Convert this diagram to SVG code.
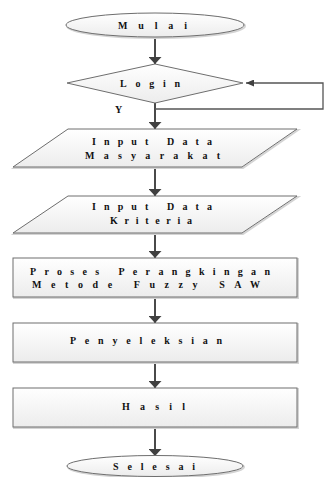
<svg xmlns="http://www.w3.org/2000/svg" width="335" height="477" viewBox="0 0 335 477">
<defs>
<linearGradient id="fillg" x1="0" y1="0" x2="0" y2="1">
<stop offset="0" stop-color="#ffffff"/>
<stop offset="1" stop-color="#ececec"/>
</linearGradient>
<marker id="ah" viewBox="0 0 7 13" refX="7" refY="6.5" markerWidth="7" markerHeight="13" markerUnits="userSpaceOnUse" orient="auto">
<path d="M0,0 L7,6.5 L0,13 z" fill="#404040"/>
</marker>
<marker id="ahs" viewBox="0 0 8 7" refX="8" refY="3.5" markerWidth="8" markerHeight="7" markerUnits="userSpaceOnUse" orient="auto">
<path d="M0,0 L8,3.5 L0,7 z" fill="#404040"/>
</marker>
</defs>
<style>
.shape{fill:url(#fillg);stroke:#6e6e6e;stroke-width:1}
.shadow{fill:none;stroke:#d4d4d4;stroke-width:2}
.t{font-family:"Liberation Serif","Times New Roman",serif;font-size:10px;font-weight:bold;fill:#111}
.c{fill:none;stroke:#4a4a4a;stroke-width:2}
.loop{fill:none;stroke:#555;stroke-width:1.3}
</style>
<rect width="335" height="477" fill="#ffffff"/>
<g id="connectors">
<line class="c" x1="155" y1="37" x2="155" y2="64" marker-end="url(#ah)"/>
<line class="c" x1="155" y1="103" x2="155" y2="129" marker-end="url(#ah)"/>
<line class="c" x1="155" y1="167" x2="155" y2="196" marker-end="url(#ah)"/>
<line class="c" x1="155" y1="233" x2="155" y2="258" marker-end="url(#ah)"/>
<line class="c" x1="155" y1="297" x2="155" y2="323" marker-end="url(#ah)"/>
<line class="c" x1="155" y1="362" x2="155" y2="388" marker-end="url(#ah)"/>
<line class="c" x1="155" y1="427" x2="155" y2="456" marker-end="url(#ah)"/>
<polyline class="loop" points="155,109 323,109 323,83 246,83" marker-end="url(#ahs)"/>
<text class="t" x="115" y="113">Y</text>
</g>
<g id="mulai">
<ellipse class="shadow" cx="156" cy="26" rx="89" ry="12"/>
<ellipse class="shape" cx="155" cy="25" rx="89" ry="12"/>
<text class="t" x="118" y="28.5" textLength="69" lengthAdjust="spacing">Mulai</text>
</g>
<g id="login">
<polygon class="shape" points="155,64 243,83 155,103 67,83"/>
<text class="t" x="120" y="87" textLength="60" lengthAdjust="spacing">Login</text>
</g>
<g id="input-masyarakat">
<polygon class="shadow" points="69,130 298,130 243,168 14,168"/>
<polygon class="shape" points="68,129 297,129 242,167 13,167"/>
<text class="t" x="92" y="144.5" textLength="120" lengthAdjust="spacing">Input Data</text>
<text class="t" x="85" y="158.5" textLength="135" lengthAdjust="spacing">Masyarakat</text>
</g>
<g id="input-kriteria">
<polygon class="shadow" points="69,197 298,197 243,234 14,234"/>
<polygon class="shape" points="68,196 297,196 242,233 13,233"/>
<text class="t" x="92" y="209.5" textLength="120" lengthAdjust="spacing">Input Data</text>
<text class="t" x="110" y="223.5" textLength="82" lengthAdjust="spacing">Kriteria</text>
</g>
<g id="proses">
<rect class="shadow" x="14" y="259" width="284" height="39"/>
<rect class="shape" x="13" y="258" width="284" height="39"/>
<text class="t" x="30" y="274.5" textLength="240" lengthAdjust="spacing">Proses Perangkingan</text>
<text class="t" x="32" y="287.5" textLength="228" lengthAdjust="spacing">Metode Fuzzy SAW</text>
</g>
<g id="penyeleksian">
<rect class="shadow" x="14" y="324" width="284" height="39"/>
<rect class="shape" x="13" y="323" width="284" height="39"/>
<text class="t" x="70" y="344" textLength="152" lengthAdjust="spacing">Penyeleksian</text>
</g>
<g id="hasil">
<rect class="shadow" x="14" y="389" width="284" height="39"/>
<rect class="shape" x="13" y="388" width="284" height="39"/>
<text class="t" x="122" y="410" textLength="63" lengthAdjust="spacing">Hasil</text>
</g>
<g id="selesai">
<ellipse class="shadow" cx="156" cy="467" rx="88" ry="10.5"/>
<ellipse class="shape" cx="155" cy="466" rx="88" ry="10.5"/>
<text class="t" x="113" y="469.5" textLength="82" lengthAdjust="spacing">Selesai</text>
</g>
</svg>
